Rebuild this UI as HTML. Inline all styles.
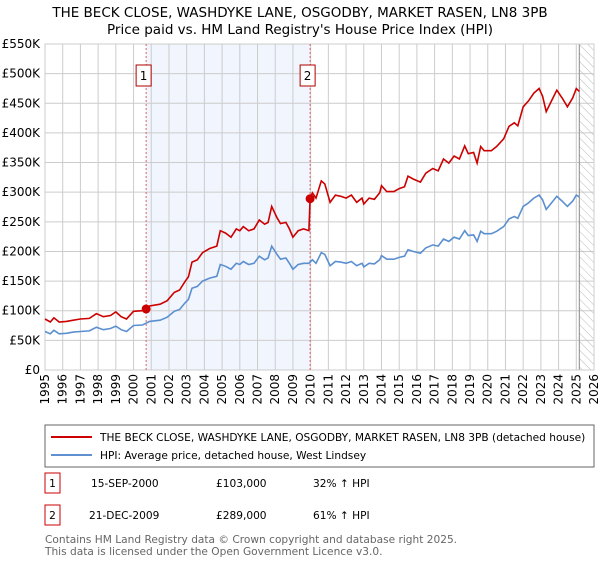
<!DOCTYPE html>
<html><head><meta charset="utf-8"><style>
body{margin:0;width:600px;height:560px;background:#fff;font-family:"DejaVu Sans",sans-serif;overflow:hidden}
svg text{font-family:"DejaVu Sans",sans-serif}
</style></head><body>
<svg id="c" width="600" height="560">
<text x="300" y="17" text-anchor="middle" font-size="13.5">THE BECK CLOSE, WASHDYKE LANE, OSGODBY, MARKET RASEN, LN8 3PB</text>
<text x="300" y="34" text-anchor="middle" font-size="13.5">Price paid vs. HM Land Registry's House Price Index (HPI)</text>
<g id="plot"></g>
<rect x="45" y="425" width="549" height="42" fill="#fff" stroke="#666" stroke-width="1"/>
<line x1="51" y1="437" x2="92" y2="437" stroke="#cc0000" stroke-width="2"/>
<text x="100" y="441" font-size="10.6">THE BECK CLOSE, WASHDYKE LANE, OSGODBY, MARKET RASEN, LN8 3PB (detached house)</text>
<line x1="51" y1="455" x2="92" y2="455" stroke="#6090d0" stroke-width="2"/>
<text x="100" y="459" font-size="10.6">HPI: Average price, detached house, West Lindsey</text>
<rect x="45" y="473" width="15" height="20" fill="#fff" stroke="#cc0000"/>
<text x="52.5" y="487" font-size="10.6" text-anchor="middle">1</text>
<text x="91" y="487" font-size="10.6">15-SEP-2000</text>
<text x="216" y="487" font-size="10.6">£103,000</text>
<text x="313" y="487" font-size="10.6">32% ↑ HPI</text>
<rect x="45" y="505" width="15" height="20" fill="#fff" stroke="#cc0000"/>
<text x="52.5" y="519" font-size="10.6" text-anchor="middle">2</text>
<text x="89" y="519" font-size="10.6">21-DEC-2009</text>
<text x="216" y="519" font-size="10.6">£289,000</text>
<text x="313" y="519" font-size="10.6">61% ↑ HPI</text>
<text x="45" y="543" font-size="10.6" fill="#666">Contains HM Land Registry data © Crown copyright and database right 2025.</text>
<text x="45" y="555" font-size="10.6" fill="#666">This data is licensed under the Open Government Licence v3.0.</text>
</svg>
<script>
const yTicks=[0,50,100,150,200,250,300,350,400,450,500,550];
const yTickLabels=["£0","£50K","£100K","£150K","£200K","£250K","£300K","£350K","£400K","£450K","£500K","£550K"];
const xTicks=[1995,1996,1997,1998,1999,2000,2001,2002,2003,2004,2005,2006,2007,2008,2009,2010,2011,2012,2013,2014,2015,2016,2017,2018,2019,2020,2021,2022,2023,2024,2025,2026];
const hpiYears=[1995.0,1995.3,1995.5,1995.8,1996.2,1996.6,1997.0,1997.5,1997.9,1998.3,1998.7,1999.0,1999.3,1999.6,2000.0,2000.5,2000.71,2000.9,2001.5,2001.9,2002.3,2002.6,2002.9,2003.1,2003.3,2003.6,2003.9,2004.3,2004.7,2004.9,2005.2,2005.5,2005.8,2006.0,2006.2,2006.5,2006.8,2007.1,2007.4,2007.6,2007.8,2008.1,2008.3,2008.6,2008.8,2009.0,2009.3,2009.6,2009.9,2010.1,2010.3,2010.6,2010.8,2011.1,2011.4,2011.7,2012.0,2012.3,2012.6,2012.9,2013.0,2013.3,2013.6,2013.9,2014.0,2014.3,2014.7,2015.0,2015.3,2015.5,2015.8,2016.2,2016.5,2016.9,2017.2,2017.5,2017.8,2018.1,2018.4,2018.7,2018.9,2019.2,2019.4,2019.6,2019.8,2020.2,2020.5,2020.9,2021.2,2021.5,2021.7,2022.0,2022.3,2022.6,2022.9,2023.1,2023.3,2023.6,2023.9,2024.2,2024.5,2024.8,2025.0,2025.17];
const hpiValues=[65,61,67,61,62,64,65,66,72,68,70,74,68,65,75,76,79,82,84,89,99,102,113,119,138,141,150,155,158,178,175,170,180,178,183,178,180,192,186,189,209,195,187,189,180,170,178,180,180,186,180,198,195,176,183,182,180,183,176,180,174,180,179,186,193,187,187,190,192,203,200,197,206,211,209,221,217,224,221,235,227,228,217,234,230,230,234,242,255,259,256,276,282,290,295,287,271,282,293,285,276,285,295,292];
const priceYears=[1995.0,1995.3,1995.5,1995.8,1996.2,1996.6,1997.0,1997.5,1997.9,1998.3,1998.7,1999.0,1999.3,1999.6,2000.0,2000.5,2000.71,2000.9,2001.5,2001.9,2002.3,2002.6,2002.9,2003.1,2003.3,2003.6,2003.9,2004.3,2004.7,2004.9,2005.2,2005.5,2005.8,2006.0,2006.2,2006.5,2006.8,2007.1,2007.4,2007.6,2007.8,2008.1,2008.3,2008.6,2008.8,2009.0,2009.3,2009.6,2009.9,2009.97,2010.1,2010.3,2010.6,2010.8,2011.1,2011.4,2011.7,2012.0,2012.3,2012.6,2012.9,2013.0,2013.3,2013.6,2013.9,2014.0,2014.3,2014.7,2015.0,2015.3,2015.5,2015.8,2016.2,2016.5,2016.9,2017.2,2017.5,2017.8,2018.1,2018.4,2018.7,2018.9,2019.2,2019.4,2019.6,2019.8,2020.2,2020.5,2020.9,2021.2,2021.5,2021.7,2022.0,2022.3,2022.6,2022.9,2023.1,2023.3,2023.6,2023.9,2024.2,2024.5,2024.8,2025.0,2025.17];
const priceValues=[86,81,88,81,82,84,86,87,95,90,92,98,90,86,99,100,103,108,111,117,131,135,149,157,182,186,198,205,209,235,231,224,238,235,242,235,238,253,246,249,276,257,247,249,238,224,235,238,235,289,299,290,319,314,283,295,293,290,295,283,290,280,290,288,299,311,301,301,306,309,327,322,317,332,340,336,356,349,361,356,378,365,367,349,377,370,370,377,390,411,417,412,444,454,467,475,462,436,454,472,459,444,459,475,470];
const saleYears=[2000.71,2009.97];
const saleValues=[103,289];
const saleLabels=["1","2"];
const forecastStart=2025.17;

const L=45,R=594,T=44,B=370;
const X=y=>L+(y-1995)/(2026-1995)*(R-L);
const Y=v=>B-v/550*(B-T);
const NS="http://www.w3.org/2000/svg";
const g=document.getElementById('plot');
function el(t,a,p){const e=document.createElementNS(NS,t);for(const k in a)e.setAttribute(k,a[k]);(p||g).appendChild(e);return e;}
let e;
e=el('rect',{x:X(saleYears[0]),y:T,width:X(saleYears[1])-X(saleYears[0]),height:B-T,fill:'#eef3fd',opacity:0.8});


xTicks.forEach(t=>{const l=el('line',{x1:X(t),x2:X(t),y1:T,y2:B,stroke:'#cccccc'});


const tx=el('text',{x:0,y:0,'font-size':12,'text-anchor':'end',transform:`translate(${X(t)+4},${B+4}) rotate(-90)`});tx.textContent=t;

});
yTicks.forEach((t,i)=>{const l=el('line',{x1:L,x2:R,y1:Y(t),y2:Y(t),stroke:'#cccccc'});


const tx=el('text',{x:40,y:Y(t)+4,'font-size':12,'text-anchor':'end'});tx.textContent=yTickLabels[i];

});
const defs=el('defs',{});
const pat=el('pattern',{id:'h',width:6,height:6,patternUnits:'userSpaceOnUse',patternTransform:'rotate(-45)'},defs);
el('line',{x1:0,y1:0,x2:0,y2:6,stroke:'#bbb','stroke-width':1},pat);
e=el('rect',{x:X(forecastStart),y:T,width:R-X(forecastStart),height:B-T,fill:'url(#h)'});


e=el('line',{x1:X(forecastStart),x2:X(forecastStart),y1:T,y2:B,stroke:'#888'});


e=el('rect',{x:L,y:T,width:R-L,height:B-T,fill:'none',stroke:'#cccccc'});


saleYears.forEach(s=>{const l=el('line',{x1:X(s),x2:X(s),y1:T,y2:B,stroke:'#e06060','stroke-dasharray':'2,2'});

});
const pts=(xs,vs)=>xs.map((y,i)=>X(y).toFixed(1)+','+Y(vs[i]).toFixed(1)).join(' ');
e=el('polyline',{points:pts(hpiYears,hpiValues),fill:'none',stroke:'#5b8fd0','stroke-width':1.6});


e=el('polyline',{points:pts(priceYears,priceValues),fill:'none',stroke:'#cc0000','stroke-width':1.6});


saleYears.forEach((s,i)=>{const c=el('circle',{cx:X(s),cy:Y(saleValues[i]),r:4.5,fill:'#cc0000'});


const b=el('rect',{x:X(s)-10,y:65,width:15,height:21,fill:'#fff',stroke:'#b00000'});


const t=el('text',{x:X(s)-2.5,y:80,'font-size':12,'text-anchor':'middle'});t.textContent=saleLabels[i];

});
</script>
</body></html>
